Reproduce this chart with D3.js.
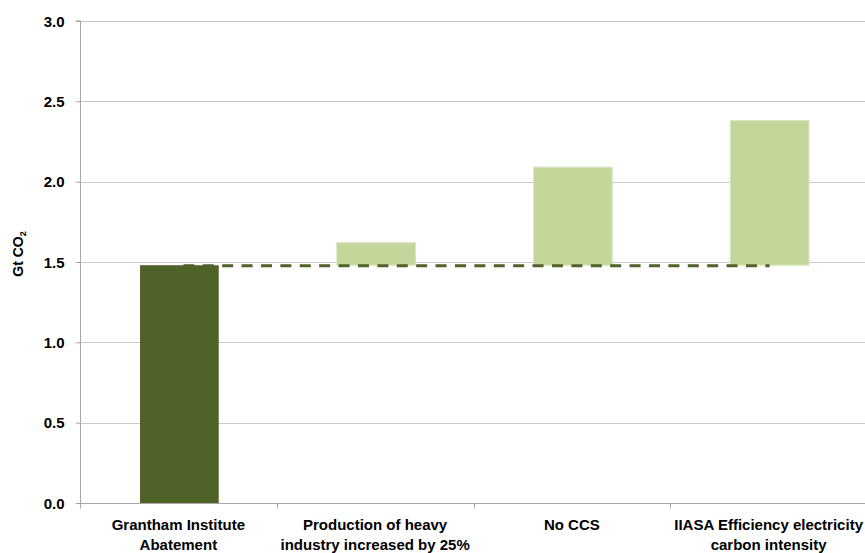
<!DOCTYPE html>
<html>
<head>
<meta charset="utf-8">
<script src="https://cdn.jsdelivr.net/npm/d3@7"></script>
<style>
  html, body { margin: 0; padding: 0; background: #fff; }
  svg { display: block; }
  text { font-family: "Liberation Sans Narrow", "Liberation Sans", Arial, sans-serif; font-weight: bold; fill: #000; }
</style>
</head>
<body>
<svg id="chart" width="865" height="553"></svg>
<script>
// Categories (two-line labels)
const categories = [
  ["Grantham Institute", "Abatement"],
  ["Production of heavy", "industry increased by 25%"],
  ["No CCS"],
  ["IIASA Efficiency electricity", "carbon intensity"]
];
// Base abatement level and bar tops (Gt CO2)
const baseline = 1.48;
const barTops = [1.48, 1.62, 2.09, 2.38];
// Bars after the first float on top of the baseline
const barBottoms = [0, 1.48, 1.48, 1.48];
const yTicks = [0, 0.5, 1.0, 1.5, 2.0, 2.5, 3.0];

const svg = d3.select("#chart");
const margin = { left: 80, right: -2, top: 21, bottom: 50 };
const W = 865, H = 553;

const x = d3.scaleBand()
  .domain(d3.range(categories.length))
  .range([margin.left, W - margin.right])
  .paddingInner(0.6)
  .paddingOuter(0.3);

const xBand = d3.scaleBand()
  .domain(d3.range(categories.length))
  .range([margin.left, W - margin.right]);

const y = d3.scaleLinear().domain([0, 3]).range([H - margin.bottom, margin.top]);

// Gridlines
svg.append("g")
  .selectAll("line")
  .data(yTicks.filter(d => d > 0))
  .join("line")
  .attr("x1", margin.left).attr("x2", W)
  .attr("y1", d => Math.round(y(d)) + 0.5).attr("y2", d => Math.round(y(d)) + 0.5)
  .attr("stroke", "#c8c8c8").attr("stroke-width", 1.2);

// Bars
svg.append("g")
  .selectAll("rect")
  .data(barTops)
  .join("rect")
  .attr("x", (d, i) => x(i) + 1)
  .attr("width", x.bandwidth())
  .attr("y", d => y(d))
  .attr("height", (d, i) => y(barBottoms[i]) - y(d))
  .attr("fill", (d, i) => i === 0 ? "#4f6228" : "#c4d79b")
  .attr("stroke", (d, i) => i === 0 ? "none" : "#d8e5bf")
  .attr("stroke-width", 1);

// Dashed baseline across the scenarios
svg.append("line")
  .attr("x1", xBand(0) + xBand.bandwidth() / 2 + 5)
  .attr("x2", xBand(categories.length - 1) + xBand.bandwidth() / 2 + 1)
  .attr("y1", y(baseline) + 0.6).attr("y2", y(baseline) + 0.6)
  .attr("stroke", "#4f6228")
  .attr("stroke-width", 3)
  .attr("stroke-dasharray", "11,8.4");

// Y axis
const yAxis = d3.axisLeft(y).tickValues(yTicks).tickFormat(d3.format(".1f")).tickSize(5).tickPadding(11);
const gy = svg.append("g").attr("transform", `translate(${margin.left + 0.5},0)`).call(yAxis);
gy.select(".domain").attr("stroke", "#a6a6a6").attr("d", `M-5,${y(3)}H0V${y(0)}`);
gy.selectAll(".tick line").attr("stroke", "#a6a6a6");
gy.selectAll(".tick text").style("font-size", "15px").style("font-family", "'Liberation Sans', Arial, sans-serif").attr("dy", "0.35em");

// X axis line and ticks at band boundaries
const baseY = Math.round(y(0)) + 0.5;
svg.append("line").attr("x1", margin.left).attr("x2", W).attr("y1", baseY).attr("y2", baseY)
  .attr("stroke", "#a6a6a6").attr("stroke-width", 1.2);
svg.append("g")
  .selectAll("line")
  .data(d3.range(categories.length + 1))
  .join("line")
  .attr("x1", i => Math.round(margin.left + i * xBand.step()) + 0.5)
  .attr("x2", i => Math.round(margin.left + i * xBand.step()) + 0.5)
  .attr("y1", baseY).attr("y2", baseY + 5)
  .attr("stroke", "#a6a6a6");

// Category labels
const lab = svg.append("g")
  .selectAll("text")
  .data(categories)
  .join("text")
  .attr("text-anchor", "middle")
  .attr("x", (d, i) => xBand(i) + xBand.bandwidth() / 2)
  .attr("y", 530)
  .style("font-size", "15px");
lab.selectAll("tspan")
  .data(d => d)
  .join("tspan")
  .attr("x", function () { return d3.select(this.parentNode).attr("x"); })
  .attr("dy", (d, i) => i === 0 ? 0 : 20)
  .text(d => d);

// Y axis title
const title = svg.append("text")
  .attr("transform", `translate(23,${y(1.55)}) rotate(-90)`)
  .attr("text-anchor", "middle")
  .style("font-size", "14px")
  .style("font-family", "'Liberation Sans', Arial, sans-serif");
title.append("tspan").text("Gt CO");
title.append("tspan").attr("dy", 3).style("font-size", "9px").text("2");
</script>
</body>
</html>
